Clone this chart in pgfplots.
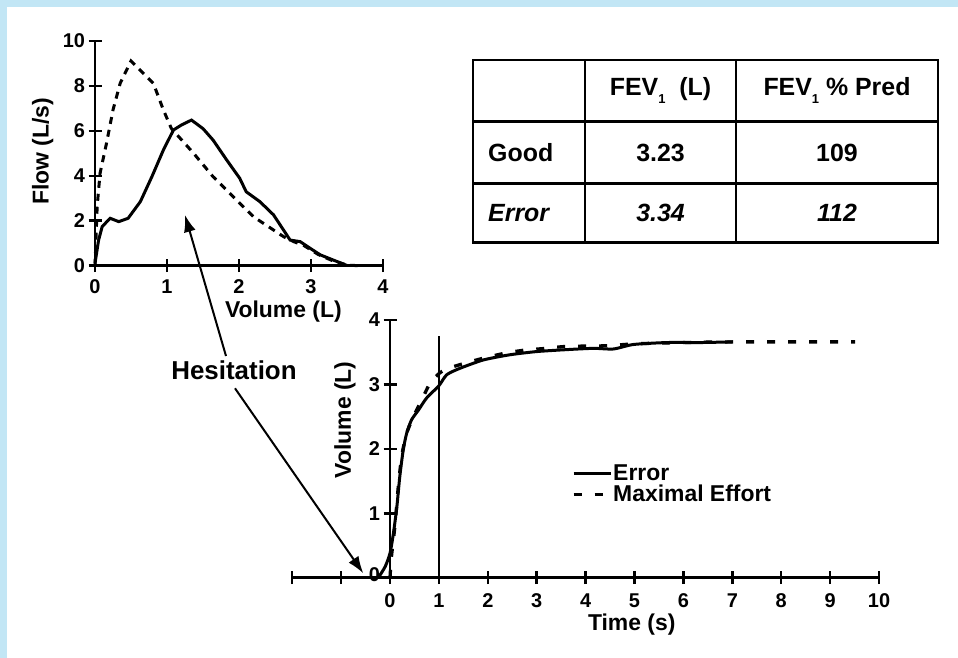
\documentclass[border=0pt]{standalone}
\usepackage{fontspec}
\setmainfont{Liberation Sans}
\usepackage{pgfplots}
\pgfplotsset{compat=1.18}
\usetikzlibrary{arrows.meta}
\definecolor{bordblue}{RGB}{194,230,245}
\newcommand{\subone}{\raisebox{-8bp}{\fontsize{13}{13}\selectfont 1}}
\begin{document}
\begin{tikzpicture}[x=1bp,y=1bp]
\useasboundingbox (0,0) rectangle (958,658);
\fill[white] (0,0) rectangle (958,658);
\fill[bordblue] (0,0) rectangle (7,658);
\fill[bordblue] (0,651) rectangle (958,658);

\pgfplotsset{
 mystyle/.style={
  scale only axis,
  axis line style={line width=2.7bp},
  every tick/.style={black, line width=2.5bp},
  major tick length=13bp,
  tick align=center,
  tick label style={font=\fontsize{20}{20}\selectfont\bfseries},
  /pgf/number format/assume math mode=true,
  label style={font=\fontsize{23}{23}\selectfont\bfseries},
  clip=false,
 }
}

% ---------- flow-volume loop ----------
\begin{axis}[mystyle, at={(95bp,392.3bp)}, anchor=south west,
  width=288bp, height=224.7bp,
  xmin=0, xmax=4, ymin=0, ymax=10,
  axis x line*=bottom, axis y line*=left,
  xtick={0,1,2,3,4}, ytick={0,2,4,6,8,10},
  xticklabel style={yshift=-4bp},
  xlabel={Volume (L)}, ylabel={Flow (L/s)},
  xlabel style={at={(axis description cs:0.654,-0.205)}, anchor=center},
  ylabel style={at={(axis description cs:-0.182,0.51)}, anchor=center},
]
\addplot[black, line width=3bp, dash pattern=on 7bp off 6bp] coordinates {
 (0,0) (0.03,2.63) (0.07,4.11) (0.16,5.45) (0.25,6.93) (0.35,8.12) (0.5,9.11)
 (0.81,8.12) (0.95,6.93) (1.06,6.11) (1.37,5.0) (1.64,3.96) (1.92,3.07)
 (2.2,2.18) (2.62,1.29) (2.76,1.07) (2.9,0.9) (3.1,0.5) (3.3,0.22) (3.5,0.03) (3.65,0)
};
\addplot[black, line width=3bp] coordinates {
 (0,0.1) (0.05,1.14) (0.1,1.74) (0.21,2.11) (0.33,1.96) (0.46,2.11) (0.63,2.85)
 (0.79,3.96) (0.95,5.15) (1.09,6.04) (1.2,6.26) (1.34,6.48) (1.5,6.1) (1.64,5.59)
 (1.83,4.7) (2.01,3.89) (2.1,3.29) (2.29,2.85) (2.48,2.26) (2.71,1.14) (2.85,1.07)
 (2.99,0.77) (3.13,0.48) (3.31,0.25) (3.5,0.01)
};
\end{axis}

% ---------- volume-time ----------
\begin{axis}[mystyle, at={(292.2bp,80.3bp)}, anchor=south west,
  width=586.8bp, height=257.7bp,
  xmin=-2, xmax=10, ymin=0, ymax=4,
  axis x line*=bottom, axis y line*=middle,
  hide obscured x ticks=false, hide obscured y ticks=false,
  xtick={-2,-1,0,1,2,3,4,5,6,7,8,9,10},
  xticklabels={,,0,1,2,3,4,5,6,7,8,9,10},
  xticklabel style={yshift=-6bp},
  ytick={0,1,2,3,4},
  yticklabels={\raisebox{7bp}{0},1,2,3,4},
  xlabel={Time (s)}, ylabel={Volume (L)},
  xlabel style={at={(axis description cs:0.5786,-0.18)}, anchor=center},
  ylabel style={at={(axis description cs:0.09,0.612)}, anchor=center},
  legend style={at={(axis cs:3.72,1.78)}, anchor=north west, draw=none, fill=none,
    inner sep=0pt, outer sep=0pt, row sep=1.6bp, column sep=0pt,
    font=\fontsize{23}{23}\selectfont\bfseries,
    nodes={inner sep=1bp, text height=16bp, text depth=2bp}},
  legend cell align=left,
  legend image code/.code={\draw[#1] (0bp,0bp) -- (37bp,0bp);},
]
\addplot[black, line width=3bp, smooth, tension=0.4] coordinates {
 (-0.24,0) (-0.1,0.17) (0,0.38) (0.07,0.69) (0.14,1.1) (0.2,1.57) (0.27,1.98)
 (0.34,2.24) (0.44,2.45) (0.58,2.6) (0.75,2.79) (1.0,2.98) (1.16,3.15) (1.43,3.25)
 (1.91,3.38) (2.45,3.46) (3.0,3.51) (3.61,3.54) (4.16,3.56) (4.57,3.55) (4.98,3.62)
 (5.66,3.65) (6.34,3.65) (6.99,3.66)
};
\addlegendentry{Error}
\addplot[black, line width=3.3bp, dash pattern=on 8bp off 13bp, smooth, tension=0.4] coordinates {
 (0,0) (0.03,0.33) (0.1,0.8) (0.17,1.42) (0.24,1.89) (0.34,2.24) (0.48,2.5)
 (0.65,2.76) (0.82,3.02) (1.02,3.18) (1.23,3.26) (1.77,3.38) (2.32,3.48) (2.73,3.53)
 (3.2,3.56) (3.61,3.59) (4.43,3.6) (5,3.63) (6,3.65) (7,3.66) (9.51,3.66)
};
\addlegendentry{Maximal Effort}
\addplot[black, line width=1.3bp, forget plot] coordinates {(1,0) (1,3.75)};
\end{axis}

% ---------- table ----------
\begin{scope}[line width=2.7bp]
\draw (473,415.3) rectangle (938,598);
\draw (585,415.3) -- (585,598);
\draw (736,415.3) -- (736,598);
\draw (473,536.3) -- (938,536.3);
\draw (473,474.7) -- (938,474.7);
\end{scope}
\begin{scope}[every node/.style={font=\fontsize{25}{25}\selectfont\bfseries, inner sep=0pt}]
\node at (660.5,567.2) {FEV\subone\ \ (L)};
\node at (837,567.2) {FEV\subone\ \% Pred};
\node[anchor=west] at (488,505.5) {Good};
\node at (660.5,505.5) {3.23};
\node at (837,505.5) {109};
\node[anchor=west] at (488,445) {\itshape Error};
\node at (660.5,445) {\itshape 3.34};
\node at (837,445) {\itshape 112};
\end{scope}

% ---------- hesitation annotation ----------
\node[font=\fontsize{26}{26}\selectfont\bfseries] at (234,288) {Hesitation};
\draw[line width=2bp, -{Latex[length=17bp,width=12bp]}] (226,302) -- (185,443);
\draw[line width=2bp, -{Latex[length=17bp,width=12bp]}] (235,269.7) -- (363.3,84.7);
\end{tikzpicture}
\end{document}
